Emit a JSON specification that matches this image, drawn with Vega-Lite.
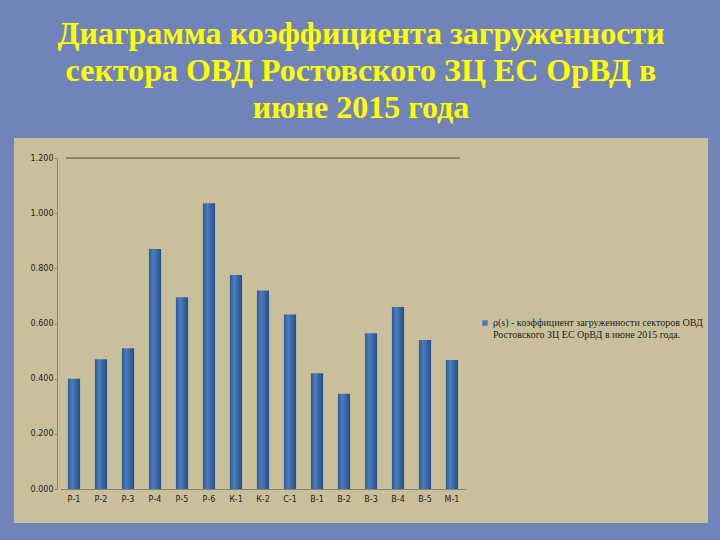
{
  "$schema": "https://vega.github.io/schema/vega-lite/v6.json",
  "autosize": {"type": "none"},
  "padding": {"left": 14, "top": 138, "right": 12, "bottom": 17},
  "width": 694,
  "height": 385,
  "background": "#7084ba",
  "title": {
    "text": ["Диаграмма коэффициента загруженности", "сектора ОВД Ростовского ЗЦ ЕС ОрВД в", "июне 2015 года"],
    "font": "Liberation Serif",
    "fontSize": 32,
    "fontWeight": "bold",
    "color": "#ffff00",
    "lineHeight": 37,
    "anchor": "middle",
    "frame": "group",
    "offset": 13
  },
  "config": {
    "view": {"fill": "#c9c09b", "stroke": null},
    "axis": {"labelFont": "DejaVu Sans", "labelFontSize": 8, "labelColor": "#222222", "grid": false, "domainColor": "#8a8468", "tickColor": "#8a8468", "title": null}
  },
  "data": {
    "values": [
      {"sector": "Р-1", "value": 0.400, "series": "ρ(s) - коэффициент загруженности секторов ОВД|Ростовского ЗЦ ЕС ОрВД в июне 2015 года."},
      {"sector": "Р-2", "value": 0.470, "series": "ρ(s) - коэффициент загруженности секторов ОВД|Ростовского ЗЦ ЕС ОрВД в июне 2015 года."},
      {"sector": "Р-3", "value": 0.510, "series": "ρ(s) - коэффициент загруженности секторов ОВД|Ростовского ЗЦ ЕС ОрВД в июне 2015 года."},
      {"sector": "Р-4", "value": 0.870, "series": "ρ(s) - коэффициент загруженности секторов ОВД|Ростовского ЗЦ ЕС ОрВД в июне 2015 года."},
      {"sector": "Р-5", "value": 0.695, "series": "ρ(s) - коэффициент загруженности секторов ОВД|Ростовского ЗЦ ЕС ОрВД в июне 2015 года."},
      {"sector": "Р-6", "value": 1.036, "series": "ρ(s) - коэффициент загруженности секторов ОВД|Ростовского ЗЦ ЕС ОрВД в июне 2015 года."},
      {"sector": "К-1", "value": 0.776, "series": "ρ(s) - коэффициент загруженности секторов ОВД|Ростовского ЗЦ ЕС ОрВД в июне 2015 года."},
      {"sector": "К-2", "value": 0.720, "series": "ρ(s) - коэффициент загруженности секторов ОВД|Ростовского ЗЦ ЕС ОрВД в июне 2015 года."},
      {"sector": "С-1", "value": 0.633, "series": "ρ(s) - коэффициент загруженности секторов ОВД|Ростовского ЗЦ ЕС ОрВД в июне 2015 года."},
      {"sector": "В-1", "value": 0.420, "series": "ρ(s) - коэффициент загруженности секторов ОВД|Ростовского ЗЦ ЕС ОрВД в июне 2015 года."},
      {"sector": "В-2", "value": 0.345, "series": "ρ(s) - коэффициент загруженности секторов ОВД|Ростовского ЗЦ ЕС ОрВД в июне 2015 года."},
      {"sector": "В-3", "value": 0.565, "series": "ρ(s) - коэффициент загруженности секторов ОВД|Ростовского ЗЦ ЕС ОрВД в июне 2015 года."},
      {"sector": "В-4", "value": 0.660, "series": "ρ(s) - коэффициент загруженности секторов ОВД|Ростовского ЗЦ ЕС ОрВД в июне 2015 года."},
      {"sector": "В-5", "value": 0.540, "series": "ρ(s) - коэффициент загруженности секторов ОВД|Ростовского ЗЦ ЕС ОрВД в июне 2015 года."},
      {"sector": "М-1", "value": 0.468, "series": "ρ(s) - коэффициент загруженности секторов ОВД|Ростовского ЗЦ ЕС ОрВД в июне 2015 года."}
    ]
  },
  "encoding": {
    "x": {
      "field": "sector", "type": "nominal", "sort": null,
      "scale": {"range": [46.5, 451.5], "paddingInner": 0.55, "paddingOuter": 0.275},
      "axis": {"labelAngle": 0, "offset": -34, "ticks": false, "labelPadding": 6}
    },
    "y": {
      "field": "value", "type": "quantitative",
      "scale": {"domain": [0, 1.2], "range": [351, 20], "nice": false},
      "axis": {"values": [0, 0.2, 0.4, 0.6, 0.8, 1.0, 1.2], "format": ".3f", "offset": -43, "tickSize": 3, "labelPadding": 1}
    }
  },
  "layer": [
    {
      "mark": {
        "type": "bar",
        "color": {"gradient": "linear", "x1": 0, "x2": 1, "y1": 0, "y2": 0,
          "stops": [{"offset": 0, "color": "#2f5a96"}, {"offset": 0.35, "color": "#4a7dc2"}, {"offset": 1, "color": "#284d85"}]}
      }
    },
    {
      "mark": {"type": "square", "opacity": 0},
      "encoding": {
        "color": {
          "field": "series", "type": "nominal",
          "scale": {"range": ["#4a78b8"]},
          "legend": {
            "title": null, "orient": "none", "legendX": 466, "legendY": 180,
            "symbolType": "square", "symbolSize": 30, "symbolOpacity": 1,
            "labelFont": "Liberation Serif", "labelFontSize": 10, "labelColor": "#222222",
            "labelLimit": 300, "labelExpr": "split(datum.label, '|')", "labelOffset": 3
          }
        }
      }
    },
    {
      "mark": {"type": "rule", "color": "#8a8468"},
      "encoding": {
        "y": {"datum": 1.2},
        "x": {"datum": "Р-1", "bandPosition": -0.1},
        "x2": {"datum": "М-1", "bandPosition": 1.1}
      }
    }
  ]
}
